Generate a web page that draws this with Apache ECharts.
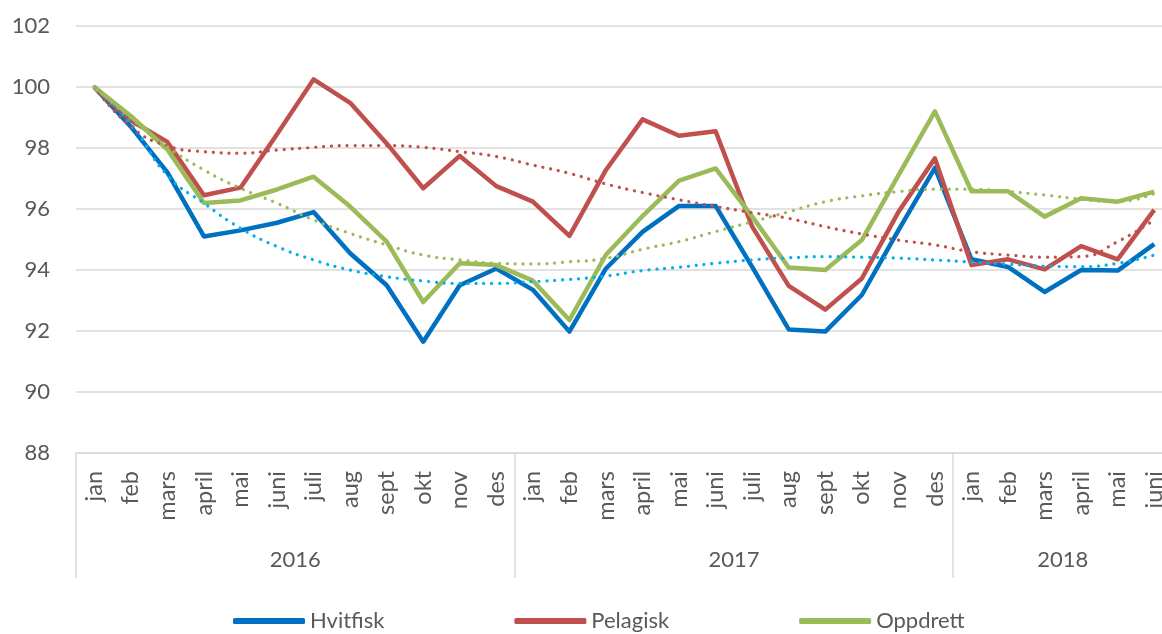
<!DOCTYPE html>
<html>
<head>
<meta charset="utf-8">
<title>Hvitfisk, Pelagisk, Oppdrett</title>
<script src="https://cdn.jsdelivr.net/npm/echarts@6/dist/echarts.min.js"></script>
<style>
    html, body { margin: 0; padding: 0; background: #fff; }
    #chart { width: 1162px; height: 634px; }
</style>
</head>
<body>
<div id="chart"></div>
<script>
    var months = [
        'jan', 'feb', 'mars', 'april', 'mai', 'juni', 'juli', 'aug', 'sept', 'okt', 'nov', 'des',
        'jan', 'feb', 'mars', 'april', 'mai', 'juni', 'juli', 'aug', 'sept', 'okt', 'nov', 'des',
        'jan', 'feb', 'mars', 'april', 'mai', 'juni'
    ]
    var years = ['2016', '2017', '2018']
    var yearLengths = [12, 12, 6]

    var hvitfisk = [100, 98.7, 97.2, 95.1, 95.3, 95.55, 95.9, 94.55, 93.5, 91.65, 93.5, 94.05,
        93.35, 91.98, 94.05, 95.25, 96.1, 96.1, 94.1, 92.05, 91.98, 93.18, 95.3, 97.35,
        94.35, 94.1, 93.28, 94.0, 93.98, 94.85]
    var pelagisk = [100, 98.9, 98.2, 96.45, 96.7, 98.45, 100.25, 99.48, 98.15, 96.68, 97.74, 96.75,
        96.24, 95.12, 97.28, 98.94, 98.4, 98.55, 95.42, 93.48, 92.7, 93.72, 95.9, 97.66,
        94.16, 94.35, 94.02, 94.78, 94.35, 95.97]
    var oppdrett = [100, 99.05, 97.95, 96.2, 96.28, 96.64, 97.06, 96.08, 94.93, 92.95, 94.22, 94.16,
        93.65, 92.36, 94.5, 95.77, 96.93, 97.33, 95.75, 94.08, 94.0, 94.98, 97.1, 99.2,
        96.58, 96.58, 95.75, 96.35, 96.24, 96.57]

    // dotted polynomial trend lines
    var hvitfiskTrend = [100, 98.8, 97.1, 96.19, 95.37, 94.77, 94.33, 94.0, 93.78, 93.64, 93.56, 93.56,
        93.62, 93.69, 93.8, 93.98, 94.09, 94.22, 94.33, 94.4, 94.44, 94.42, 94.39, 94.33,
        94.26, 94.19, 94.13, 94.11, 94.22, 94.49]
    var pelagiskTrend = [100, 98.7, 98.07, 97.88, 97.83, 97.93, 98.02, 98.08, 98.08, 98.02, 97.88, 97.72,
        97.44, 97.17, 96.82, 96.54, 96.3, 96.08, 95.88, 95.69, 95.42, 95.18, 94.98, 94.82,
        94.6, 94.49, 94.42, 94.44, 94.93, 95.64]
    var oppdrettTrend = [100, 98.98, 98.04, 97.28, 96.68, 96.19, 95.64, 95.2, 94.82, 94.49, 94.33, 94.22,
        94.2, 94.27, 94.38, 94.68, 94.93, 95.26, 95.58, 95.91, 96.24, 96.43, 96.57, 96.65,
        96.65, 96.57, 96.46, 96.32, 96.24, 96.51]

    // year row: one slot per month boundary, year name in the middle of its group
    var yearSlots = []
    for (var i = 0; i <= months.length; i++) yearSlots.push('')
    var start = 0
    years.forEach(function (y, k) {
        yearSlots[start + yearLengths[k] / 2] = y
        start += yearLengths[k]
    })
    var yearEdges = [0]
    yearLengths.forEach(function (n) { yearEdges.push(yearEdges[yearEdges.length - 1] + n) })

    var font = 'Lato, "Open Sans", sans-serif'
    var textColor = '#595959'
    var gridColor = '#d9d9d9'

    function mainLine(name, data, color) {
        return {
            name: name,
            type: 'line',
            data: data,
            symbol: 'none',
            lineStyle: { color: color, width: 4.5, join: 'round' },
            itemStyle: { color: color }
        }
    }

    function trendLine(name, data, color) {
        return {
            name: name,
            type: 'line',
            data: data,
            symbol: 'none',
            smooth: true,
            silent: true,
            lineStyle: { color: color, width: 3.2, type: [0.1, 7.8], cap: 'round' }
        }
    }

    var chart = echarts.init(document.getElementById('chart'))
    var option = {
        animation: false,
        grid: { left: 76, top: 26, width: 1096.5, height: 427, outerBoundsMode: 'none', containLabel: false },
        legend: {
            data: ['Hvitfisk', 'Pelagisk', 'Oppdrett'],
            left: 228,
            top: 605,
            icon: 'roundRect',
            itemWidth: 72,
            itemHeight: 6,
            itemGap: 130,
            textStyle: { fontFamily: font, fontSize: 22, color: textColor }
        },
        xAxis: [{
            type: 'category',
            data: months,
            boundaryGap: true,
            axisLine: { lineStyle: { color: gridColor, width: 1.5 } },
            axisTick: { show: false },
            axisLabel: {
                interval: 0,
                rotate: 90,
                margin: 18,
                fontFamily: font,
                fontSize: 23.5,
                color: textColor
            }
        }, {
            type: 'category',
            data: yearSlots,
            boundaryGap: false,
            position: 'bottom',
            axisLine: { show: false },
            axisTick: {
                show: true,
                length: 125,
                interval: function (idx) { return yearEdges.indexOf(idx) >= 0 },
                lineStyle: { color: gridColor, width: 1.5 }
            },
            axisLabel: {
                interval: 0,
                margin: 96,
                fontFamily: font,
                fontSize: 22,
                color: textColor
            }
        }],
        yAxis: {
            type: 'value',
            min: 88,
            max: 102,
            interval: 2,
            axisLine: { show: false },
            axisTick: { show: false },
            axisLabel: { margin: 26, fontFamily: font, fontSize: 22, color: textColor },
            splitLine: { lineStyle: { color: gridColor, width: 1.5 } }
        },
        series: [
            mainLine('Hvitfisk', hvitfisk, '#0070C0'),
            mainLine('Pelagisk', pelagisk, '#C0504D'),
            mainLine('Oppdrett', oppdrett, '#9BBB59'),
            trendLine('Hvitfisk trend', hvitfiskTrend, '#00B0F0'),
            trendLine('Pelagisk trend', pelagiskTrend, '#C0504D'),
            trendLine('Oppdrett trend', oppdrettTrend, '#9BBB59')
        ]
    }
    chart.setOption(option)
</script>
</body>
</html>
